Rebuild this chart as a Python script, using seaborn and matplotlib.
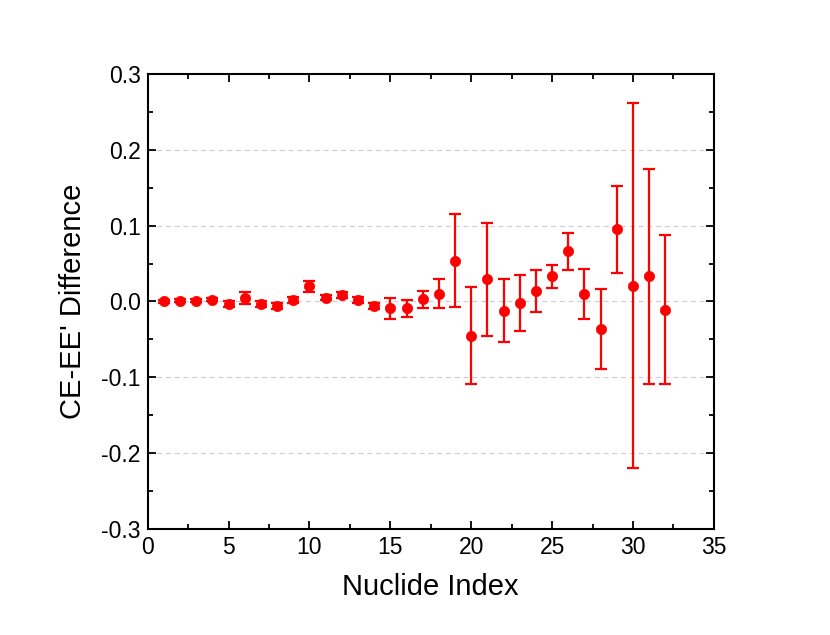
import numpy as np
import pandas as pd
import matplotlib
matplotlib.use("Agg")
import matplotlib.pyplot as plt
import seaborn as sns
from matplotlib.ticker import MultipleLocator

# values
nuclide_index = list(range(1, 33))
difference = [0.000, 0.001, 0.001, 0.002, -0.003, 0.004, -0.003, -0.006,
              0.002, 0.020, 0.005, 0.009, 0.002, -0.006, -0.009, -0.009,
              0.003, 0.010, 0.054, -0.045, 0.029, -0.012, -0.002, 0.014,
              0.033, 0.066, 0.010, -0.036, 0.095, 0.021, 0.033, -0.011]
uncertainty = [0.002, 0.002, 0.002, 0.002, 0.004, 0.008, 0.004, 0.004,
               0.004, 0.007, 0.003, 0.004, 0.004, 0.004, 0.0135, 0.011,
               0.011, 0.019, 0.0615, 0.064, 0.0747, 0.041, 0.0374, 0.0278,
               0.015, 0.0244, 0.0326, 0.0526, 0.0576, 0.241, 0.1416, 0.0985]

df = pd.DataFrame({"index": nuclide_index, "diff": difference, "err": uncertainty})

sns.set_theme(style="ticks")
plt.rcParams["font.family"] = ["Liberation Sans", "DejaVu Sans"]
plt.rcParams["text.color"] = "black"
plt.rcParams["axes.labelcolor"] = "black"

fig = plt.figure(figsize=(8.3, 6.35), dpi=100)
ax = fig.add_axes([0.178, 0.167, 0.682, 0.7165])

# light dashed grid at major y ticks
for yv in [-0.2, -0.1, 0.0, 0.1, 0.2]:
    ax.axhline(yv, color="#d0d0d0", lw=0.9, ls=(0, (4, 3)), zorder=0)

ax.errorbar(df["index"], df["diff"], yerr=df["err"], fmt="none",
            ecolor="red", elinewidth=1.6, capsize=4.5, capthick=1.6, zorder=2)
sns.scatterplot(data=df, x="index", y="diff", color="red", s=55,
                edgecolor="red", linewidth=0.5, ax=ax, zorder=3)

ax.set_xlim(0, 35)
ax.set_ylim(-0.3, 0.3)
ax.xaxis.set_major_locator(MultipleLocator(5))
ax.xaxis.set_minor_locator(MultipleLocator(2.5))
ax.yaxis.set_minor_locator(MultipleLocator(0.05))
ax.set_yticks([-0.3, -0.2, -0.1, 0.0, 0.1, 0.2, 0.3])
ax.set_yticklabels(["-0.3", "-0.2", "-0.1", "0.0", "0.1", "0.2", "0.3"])

ax.tick_params(which="both", direction="in", top=True, right=True,
               color="black", width=1.3)
ax.tick_params(which="major", length=6, labelsize=16.5, labelcolor="black", pad=5)
ax.tick_params(which="minor", length=3.5)
for sp in ax.spines.values():
    sp.set_visible(True)
    sp.set_color("black")
    sp.set_linewidth(1.5)

ax.set_xlabel("Nuclide Index", fontsize=21, labelpad=10, color="black")
ax.set_ylabel("CE-EE' Difference", fontsize=21, labelpad=10, color="black")

fig.savefig("out.png", dpi=100)
